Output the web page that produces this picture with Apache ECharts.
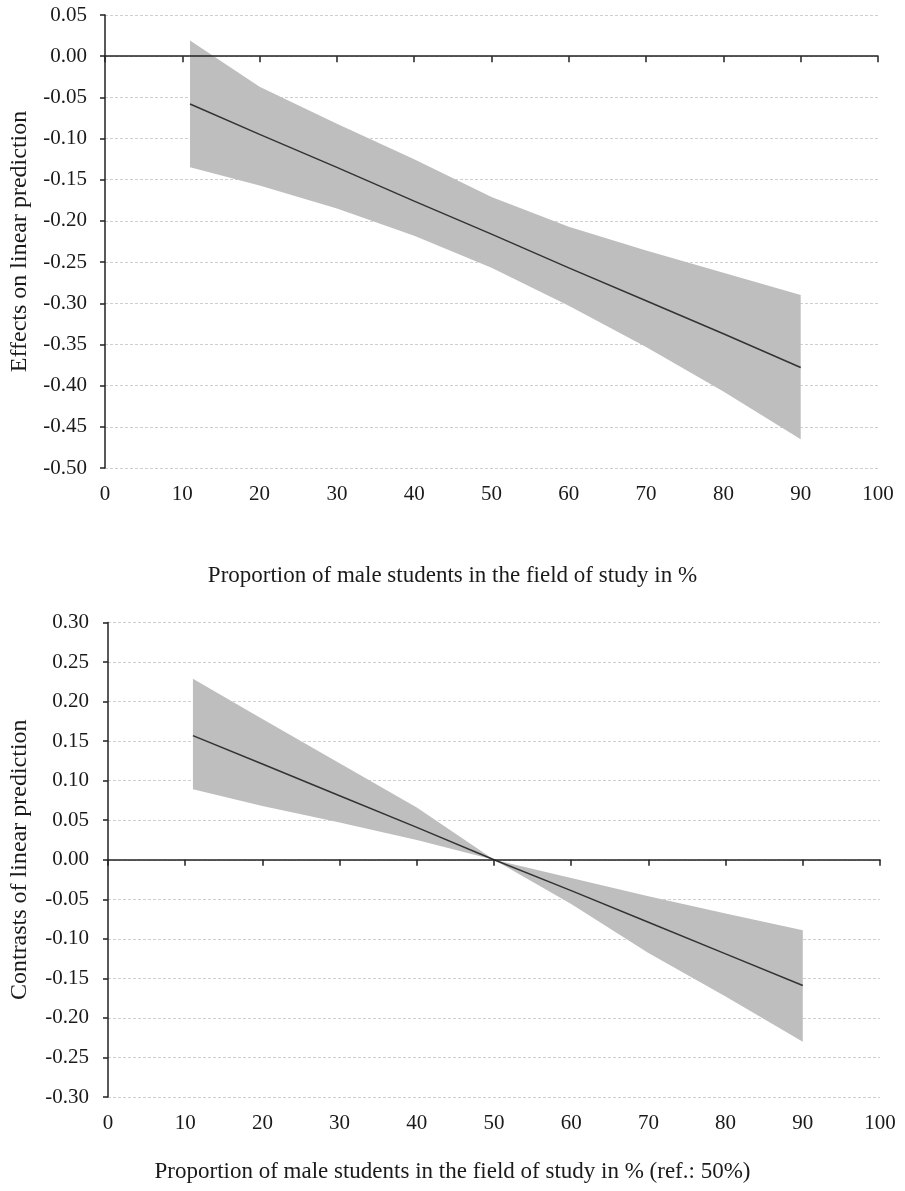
<!DOCTYPE html>
<html>
<head>
<meta charset="utf-8">
<script src="https://cdn.jsdelivr.net/npm/echarts@6/dist/echarts.min.js"></script>
<style>
html,body{margin:0;padding:0;background:#fff;}
#chart{width:905px;height:1191px;}
</style>
</head>
<body>
<div id="chart"></div>
<script>
// ---- Data ----
const xTicks = [0, 10, 20, 30, 40, 50, 60, 70, 80, 90, 100];

// Top panel: effects on linear prediction
const topX      = [11, 20, 30, 40, 50, 60, 70, 80, 90];
const topEffect = [-0.058, -0.095, -0.135, -0.176, -0.216, -0.257, -0.297, -0.337, -0.378];
const topUpper  = [0.019, -0.037, -0.082, -0.125, -0.171, -0.207, -0.236, -0.263, -0.290];
const topLower  = [-0.135, -0.157, -0.185, -0.218, -0.257, -0.303, -0.353, -0.407, -0.465];

// Bottom panel: contrasts of linear prediction (ref.: 50%)
const botX        = [11, 20, 30, 40, 50, 60, 70, 80, 90];
const botContrast = [0.157, 0.121, 0.081, 0.041, 0.000, -0.039, -0.079, -0.119, -0.159];
const botUpper    = [0.229, 0.178, 0.122, 0.066, 0.000, -0.023, -0.046, -0.068, -0.089];
const botLower    = [0.089, 0.068, 0.047, 0.025, 0.000, -0.056, -0.118, -0.173, -0.230];

const topTitleX = 'Proportion of male students in the field of study in %';
const botTitleX = 'Proportion of male students in the field of study in % (ref.: 50%)';
const topTitleY = 'Effects on linear prediction';
const botTitleY = 'Contrasts of linear prediction';

// ---- Styling ----
const FONT = 'Liberation Serif';
const TICK_FS = 21;
const NAME_FS = 23;
const YNAME_FS = 24;
const DARK = '#1a1a1a';
const BAND = '#bebebe';

function fmt(v){ return Math.abs(v) < 1e-9 ? '0.00' : v.toFixed(2); }

function bandSeries(gridIdx, xs, lo, hi){
  return {
    type: 'custom',
    xAxisIndex: gridIdx * 2,
    yAxisIndex: gridIdx,
    z: 2,
    silent: true,
    data: xs.map((x, i) => [x, lo[i], hi[i]]),
    encode: { x: 0, y: [1, 2] },
    renderItem: function (params, api) {
      if (params.dataIndex !== 0) return null;
      const pts = [];
      for (let i = 0; i < xs.length; i++) pts.push(api.coord([xs[i], hi[i]]));
      for (let i = xs.length - 1; i >= 0; i--) pts.push(api.coord([xs[i], lo[i]]));
      return { type: 'polygon', shape: { points: pts }, style: { fill: BAND, stroke: null } };
    }
  };
}

function lineSeries(gridIdx, xs, ys){
  return {
    type: 'line',
    xAxisIndex: gridIdx * 2,
    yAxisIndex: gridIdx,
    z: 4,
    silent: true,
    symbol: 'none',
    data: xs.map((x, i) => [x, ys[i]]),
    lineStyle: { color: '#333333', width: 1.5 }
  };
}

function xAxesFor(gridIdx){
  return [
    { // labels at the bottom of the plot
      type: 'value', gridIndex: gridIdx, position: 'bottom',
      min: 0, max: 100, interval: 10,
      axisLine: { show: false, onZero: false },
      axisTick: { show: false },
      splitLine: { show: false },
      axisLabel: { color: DARK, fontFamily: FONT, fontSize: TICK_FS, margin: 16 }
    },
    { // zero line with ticks pointing down
      type: 'value', gridIndex: gridIdx, position: 'top',
      min: 0, max: 100, interval: 10, z: 5,
      axisLine: { show: true, onZero: true, lineStyle: { color: '#222222', width: 1.5 } },
      axisTick: { show: true, inside: true, length: 6, lineStyle: { color: '#222222', width: 1.5 } },
      axisLabel: { show: false },
      splitLine: { show: false }
    }
  ];
}

function yAxisFor(gridIdx, min, max, name, nameGap, margin){
  return {
    type: 'value', gridIndex: gridIdx,
    min: min, max: max, interval: 0.05,
    axisLine: { show: true, onZero: false, lineStyle: { color: '#222222', width: 1.5 } },
    axisTick: { show: true, length: 5, lineStyle: { color: '#222222', width: 1.5 } },
    axisLabel: { color: DARK, fontFamily: FONT, fontSize: TICK_FS, margin: margin, formatter: fmt },
    splitLine: { show: true, lineStyle: { color: '#cfcfcf', width: 1, type: [3, 2] } },
    name: name, nameLocation: 'middle', nameGap: nameGap,
    nameTextStyle: { color: DARK, fontFamily: FONT, fontSize: YNAME_FS }
  };
}

const chart = echarts.init(document.getElementById('chart'), null, { renderer: 'canvas' });
chart.setOption({
  animation: false,
  backgroundColor: '#ffffff',
  title: [
    { text: topTitleX, left: 'center', top: 559,
      textStyle: { color: DARK, fontFamily: FONT, fontSize: NAME_FS, fontWeight: 'normal' } },
    { text: botTitleX, left: 'center', top: 1155,
      textStyle: { color: DARK, fontFamily: FONT, fontSize: NAME_FS, fontWeight: 'normal' } }
  ],
  grid: [
    { left: 100, top: 15, width: 778, height: 453 },
    { left: 103, top: 622.5, width: 777, height: 474.5 }
  ],
  xAxis: [].concat(xAxesFor(0), xAxesFor(1)),
  yAxis: [
    yAxisFor(0, -0.50, 0.05, topTitleY, 73, 18),
    yAxisFor(1, -0.30, 0.30, botTitleY, 76, 19)
  ],
  series: [
    bandSeries(0, topX, topLower, topUpper),
    lineSeries(0, topX, topEffect),
    bandSeries(1, botX, botLower, botUpper),
    lineSeries(1, botX, botContrast)
  ]
});
</script>
</body>
</html>
